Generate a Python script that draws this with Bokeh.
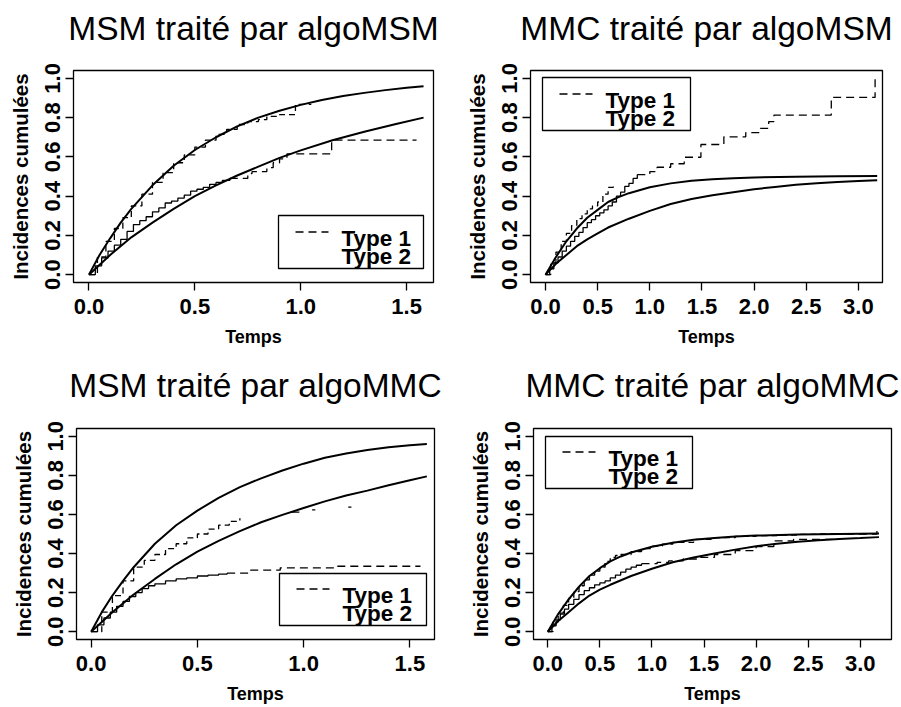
from bokeh.plotting import figure
from bokeh.layouts import column, row
from bokeh.models import (Range1d, FixedTicker, PrintfTickFormatter, BoxAnnotation,
                          Label, Arrow, LinearAxis)
from bokeh.embed import file_html
from bokeh.resources import INLINE

# ------------------------------------------------------------------ data
titles = ["MSM traité par algoMSM", "MMC traité par algoMSM",
          "MSM traité par algoMMC", "MMC traité par algoMMC"]
x_label = "Temps"
y_label = "Incidences cumulées"
legend_labels = ["Type 1", "Type 2"]
y_ticks = [0.0, 0.2, 0.4, 0.6, 0.8, 1.0]
x_ticks_short = [0.0, 0.5, 1.0, 1.5]
x_ticks_long = [0.0, 0.5, 1.0, 1.5, 2.0, 2.5, 3.0]

# ---- panel 1 : MSM traité par algoMSM
p1_th_a_x = [0, 0.05, 0.1, 0.15, 0.2, 0.3, 0.4, 0.5, 0.6, 0.7, 0.8, 0.9, 1.0, 1.1, 1.2, 1.3, 1.4, 1.5, 1.58]
p1_th_a_y = [0, 0.10, 0.185, 0.265, 0.335, 0.455, 0.555, 0.635, 0.70, 0.755, 0.80, 0.835, 0.865, 0.89, 0.91, 0.926, 0.94, 0.952, 0.96]
p1_th_b_x = [0, 0.1, 0.2, 0.3, 0.4, 0.5, 0.6, 0.7, 0.8, 0.9, 1.0, 1.15, 1.3, 1.45, 1.58]
p1_th_b_y = [0, 0.10, 0.19, 0.265, 0.335, 0.40, 0.455, 0.505, 0.55, 0.595, 0.633, 0.685, 0.728, 0.767, 0.80]
p1_est_a_x = [0, 0.04, 0.08, 0.12, 0.16, 0.2, 0.25, 0.3, 0.35, 0.4, 0.45, 0.5, 0.55, 0.6, 0.65, 0.7, 0.75, 0.8, 0.84, 0.9, 0.975, 1.05]
p1_est_a_y = [0, 0.09, 0.17, 0.235, 0.29, 0.35, 0.41, 0.47, 0.52, 0.57, 0.61, 0.65, 0.685, 0.715, 0.74, 0.765, 0.78, 0.79, 0.806, 0.815, 0.867, 0.867]
p1_est_b_x = [0, 0.03, 0.06, 0.09, 0.12, 0.15, 0.18, 0.21, 0.24, 0.27, 0.30, 0.33, 0.36, 0.39, 0.42, 0.45, 0.48, 0.51, 0.54, 0.57, 0.60, 0.63, 0.665]
p1_est_b_y = [0, 0.045, 0.085, 0.12, 0.15, 0.18, 0.22, 0.255, 0.275, 0.295, 0.32, 0.34, 0.365, 0.375, 0.39, 0.405, 0.425, 0.435, 0.445, 0.46, 0.47, 0.48, 0.49]
p1_est_c_x = [0.665, 0.75, 0.77, 0.84, 0.87, 0.90, 0.935, 1.146, 1.547]
p1_est_c_y = [0.49, 0.515, 0.525, 0.545, 0.57, 0.59, 0.615, 0.685, 0.685]

# ---- panel 2 : MMC traité par algoMSM
p2_th_a_x = [0, 0.1, 0.2, 0.3, 0.4, 0.5, 0.6, 0.7, 0.8, 1.0, 1.2, 1.4, 1.6, 1.8, 2.0, 2.4, 2.8, 3.18]
p2_th_a_y = [0, 0.09, 0.17, 0.235, 0.29, 0.33, 0.37, 0.395, 0.415, 0.445, 0.465, 0.478, 0.486, 0.491, 0.495, 0.499, 0.501, 0.502]
p2_th_b_x = [0, 0.1, 0.2, 0.3, 0.4, 0.5, 0.6, 0.8, 1.0, 1.2, 1.4, 1.6, 1.8, 2.0, 2.2, 2.4, 2.6, 2.8, 3.0, 3.18]
p2_th_b_y = [0, 0.055, 0.10, 0.145, 0.18, 0.21, 0.24, 0.285, 0.325, 0.36, 0.385, 0.405, 0.42, 0.435, 0.447, 0.458, 0.465, 0.472, 0.477, 0.481]
p2_est_a_x = [0, 0.05, 0.1, 0.15, 0.2, 0.25, 0.3, 0.35, 0.4, 0.45, 0.5, 0.55, 0.6, 0.65]
p2_est_a_y = [0, 0.06, 0.115, 0.17, 0.21, 0.25, 0.285, 0.31, 0.335, 0.35, 0.37, 0.41, 0.445, 0.47]
p2_est_b_x = [0, 0.04, 0.08, 0.12, 0.16, 0.2, 0.24, 0.28, 0.32, 0.36, 0.40, 0.44, 0.48, 0.52, 0.56, 0.60, 0.64, 0.68, 0.72, 0.76, 0.80, 0.84, 0.88]
p2_est_b_y = [0, 0.03, 0.06, 0.09, 0.12, 0.145, 0.17, 0.195, 0.215, 0.24, 0.265, 0.28, 0.30, 0.315, 0.33, 0.35, 0.37, 0.40, 0.42, 0.45, 0.465, 0.49, 0.51]
p2_est_c_x = [0.88, 1.0, 1.07, 1.2, 1.33, 1.49, 1.71, 1.92, 2.06, 2.14, 2.19, 2.74, 3.16]
p2_est_c_y = [0.51, 0.525, 0.547, 0.565, 0.598, 0.663, 0.702, 0.724, 0.745, 0.78, 0.813, 0.903, 1.0]

# ---- panel 3 : MSM traité par algoMMC
p3_th_a_x = [0, 0.05, 0.1, 0.15, 0.2, 0.3, 0.4, 0.5, 0.6, 0.7, 0.8, 0.9, 1.0, 1.1, 1.2, 1.3, 1.4, 1.5, 1.58]
p3_th_a_y = [0, 0.10, 0.185, 0.26, 0.33, 0.45, 0.545, 0.62, 0.685, 0.74, 0.785, 0.825, 0.86, 0.89, 0.912, 0.93, 0.944, 0.954, 0.961]
p3_th_b_x = [0, 0.1, 0.2, 0.3, 0.4, 0.5, 0.6, 0.7, 0.8, 0.9, 1.0, 1.1, 1.2, 1.3, 1.4, 1.5, 1.58]
p3_th_b_y = [0, 0.10, 0.19, 0.27, 0.345, 0.41, 0.465, 0.515, 0.56, 0.598, 0.633, 0.667, 0.697, 0.722, 0.75, 0.775, 0.795]
p3_est_a_x = [0, 0.05, 0.1, 0.15, 0.2, 0.25, 0.3, 0.35, 0.4, 0.45, 0.5, 0.55, 0.6, 0.65, 0.7]
p3_est_a_y = [0, 0.10, 0.185, 0.26, 0.33, 0.365, 0.395, 0.425, 0.45, 0.48, 0.50, 0.525, 0.545, 0.565, 0.58]
p3_frag_x0 = [0.94, 1.04, 1.21]
p3_frag_x1 = [0.98, 1.055, 1.225]
p3_frag_y = [0.612, 0.623, 0.638]
p3_est_b_x = [0, 0.03, 0.06, 0.09, 0.12, 0.15, 0.18, 0.21, 0.24, 0.27, 0.30, 0.35, 0.40, 0.45, 0.50, 0.55, 0.60, 0.64]
p3_est_b_y = [0, 0.035, 0.07, 0.10, 0.13, 0.155, 0.18, 0.20, 0.22, 0.235, 0.245, 0.26, 0.27, 0.275, 0.285, 0.29, 0.295, 0.30]
p3_est_c_x = [0.64, 0.75, 0.89, 1.15, 1.55]
p3_est_c_y = [0.30, 0.315, 0.327, 0.335, 0.335]

# ---- panel 4 : MMC traité par algoMMC
p4_th_a_x = [0, 0.1, 0.2, 0.3, 0.4, 0.5, 0.6, 0.7, 0.8, 1.0, 1.2, 1.4, 1.6, 1.8, 2.0, 2.4, 2.8, 3.18]
p4_th_a_y = [0, 0.09, 0.165, 0.23, 0.285, 0.325, 0.36, 0.385, 0.405, 0.435, 0.455, 0.47, 0.48, 0.487, 0.492, 0.497, 0.5, 0.503]
p4_th_b_x = [0, 0.1, 0.2, 0.3, 0.4, 0.5, 0.6, 0.8, 1.0, 1.2, 1.4, 1.6, 1.8, 2.0, 2.2, 2.4, 2.6, 2.8, 3.0, 3.18]
p4_th_b_y = [0, 0.055, 0.10, 0.145, 0.185, 0.215, 0.24, 0.285, 0.322, 0.355, 0.38, 0.40, 0.42, 0.437, 0.45, 0.46, 0.468, 0.474, 0.479, 0.484]
p4_est_a_x = [0, 0.05, 0.1, 0.15, 0.2, 0.25, 0.3, 0.35, 0.4, 0.45, 0.5, 0.55, 0.6, 0.65, 0.7, 0.8, 0.9, 1.0, 1.1, 1.2, 1.4, 1.6, 1.8, 2.0, 2.2, 2.4, 2.6, 2.74]
p4_est_a_y = [0, 0.05, 0.095, 0.135, 0.17, 0.205, 0.235, 0.265, 0.29, 0.31, 0.33, 0.36, 0.38, 0.39, 0.395, 0.41, 0.425, 0.438, 0.448, 0.457, 0.472, 0.481, 0.488, 0.492, 0.495, 0.498, 0.5, 0.5]
p4_est_b_x = [0, 0.04, 0.08, 0.12, 0.16, 0.2, 0.25, 0.3, 0.35, 0.4, 0.45, 0.5, 0.55, 0.6, 0.65, 0.7, 0.75, 0.8, 0.85, 0.9]
p4_est_b_y = [0, 0.03, 0.06, 0.09, 0.115, 0.14, 0.165, 0.19, 0.21, 0.225, 0.24, 0.25, 0.26, 0.275, 0.29, 0.305, 0.32, 0.33, 0.34, 0.348]
p4_est_c_x = [0.9, 1.05, 1.16, 1.3, 1.45, 1.6, 1.8, 2.0, 2.17, 2.36, 2.74, 3.16]
p4_est_c_y = [0.348, 0.355, 0.362, 0.372, 0.38, 0.395, 0.415, 0.435, 0.465, 0.473, 0.50, 0.53]

# ------------------------------------------------------------------ style
FONT = "Liberation Sans"
TITLE_SIZE = "33.5px"
TICK_SIZE = "22px"
XLAB_SIZE = "18px"
YLAB_SIZE = "20.5px"
LEG_SIZE = "22.5px"
DASH = "8 5"
DASH_BROKEN = "6 4"


def make_panel(title, size, borders, xr, xticks, curves, legend_box, title_standoff, frags=None):
    w, h = size
    left, right, top, bottom = borders
    p = figure(width=w, height=h, x_range=Range1d(*xr), y_range=Range1d(-0.04, 1.04),
               output_backend="svg", toolbar_location=None, title=None,
               min_border_left=left, min_border_right=right,
               min_border_top=top, min_border_bottom=bottom)
    p.background_fill_color = "white"
    p.border_fill_color = "white"
    p.grid.visible = False
    p.outline_line_color = "black"
    p.outline_line_width = 1.3
    p.outline_line_alpha = 1.0

    xax = p.below[0]
    yax = p.left[0]
    xax.ticker = FixedTicker(ticks=xticks)
    yax.ticker = FixedTicker(ticks=y_ticks)
    xax.formatter = PrintfTickFormatter(format="%.1f")
    yax.formatter = PrintfTickFormatter(format="%.1f")
    yax.major_label_orientation = "vertical"
    xax.axis_label = x_label
    yax.axis_label = y_label
    for ax in (xax, yax):
        ax.axis_line_color = None
        ax.major_tick_line_color = "black"
        ax.major_tick_line_width = 1.3
        ax.major_tick_in = 0
        ax.major_tick_out = 8
        ax.minor_tick_line_color = None
        ax.major_label_text_font = FONT
        ax.major_label_text_font_size = TICK_SIZE
        ax.major_label_text_font_style = "bold"
        ax.major_label_text_color = "black"
        ax.axis_label_text_font = FONT
        ax.axis_label_text_font_style = "bold"
        ax.axis_label_text_color = "black"
    xax.major_label_standoff = 8
    yax.major_label_standoff = 5
    xax.axis_label_text_font_size = XLAB_SIZE
    yax.axis_label_text_font_size = YLAB_SIZE
    xax.axis_label_standoff = 10
    yax.axis_label_standoff = 11

    # panel title (R "main"): drawn as the label of a bare axis above the frame
    top_axis = LinearAxis(ticker=FixedTicker(ticks=[]), axis_label=title,
                          axis_line_color=None, major_tick_line_color=None,
                          minor_tick_line_color=None, major_tick_out=0, minor_tick_out=0,
                          major_tick_in=0, minor_tick_in=0,
                          axis_label_standoff=title_standoff,
                          axis_label_text_font=FONT, axis_label_text_font_size=TITLE_SIZE,
                          axis_label_text_font_style="normal", axis_label_text_color="black")
    p.add_layout(top_axis, "above")

    (tha_x, tha_y, thb_x, thb_y, ea_x, ea_y, eb_x, eb_y, ec_x, ec_y) = curves
    p.line(tha_x, tha_y, line_color="black", line_width=2.0)
    p.line(thb_x, thb_y, line_color="black", line_width=2.0)
    p.step(ea_x, ea_y, mode="after", line_color="black", line_width=1.3, line_dash=DASH_BROKEN)
    p.step(eb_x, eb_y, mode="after", line_color="black", line_width=1.3)
    p.step(ec_x, ec_y, mode="after", line_color="black", line_width=1.3, line_dash=DASH)
    if frags is not None:
        fx0, fx1, fy = frags
        p.segment(x0=fx0, y0=fy, x1=fx1, y1=fy, line_color="black", line_width=1.3)

    # legend (R style box, dashed sample only for Type 1)
    bl, bb, bw, bh = legend_box
    p.add_layout(BoxAnnotation(left=bl, right=bl + bw, bottom=bb, top=bb + bh,
                               left_units="screen", right_units="screen",
                               bottom_units="screen", top_units="screen",
                               fill_color=None, fill_alpha=0, line_color="black",
                               line_width=1.3, line_alpha=1.0))
    p.add_layout(Arrow(end=None, x_start=bl + 17, y_start=bb + 36.5, x_end=bl + 50, y_end=bb + 36.5,
                       start_units="screen", end_units="screen", line_color="black",
                       line_width=1.3, line_dash=DASH))
    for lab, yoff in zip(legend_labels, (30, 12)):
        p.add_layout(Label(x=bl + 63, y=bb + yoff, x_units="screen", y_units="screen",
                           text=lab, text_font=FONT, text_font_size=LEG_SIZE,
                           text_font_style="bold",
                           text_color="black", text_baseline="alphabetic", text_align="left"))
    return p


p1 = make_panel(titles[0], (450, 353), (73, 17, 70, 71), (-0.073, 1.627), x_ticks_short,
                (p1_th_a_x, p1_th_a_y, p1_th_b_x, p1_th_b_y, p1_est_a_x, p1_est_a_y,
                 p1_est_b_x, p1_est_b_y, p1_est_c_x, p1_est_c_y), (205, 14, 145, 53), 24)
p2 = make_panel(titles[1], (450, 353), (80, 18, 70, 70), (-0.144, 3.231), x_ticks_long,
                (p2_th_a_x, p2_th_a_y, p2_th_b_x, p2_th_b_y, p2_est_a_x, p2_est_a_y,
                 p2_est_b_x, p2_est_b_y, p2_est_c_x, p2_est_c_y), (12, 152, 148, 53), 24)
p3 = make_panel(titles[2], (450, 353), (76, 16, 75, 67), (-0.069, 1.616), x_ticks_short,
                (p3_th_a_x, p3_th_a_y, p3_th_b_x, p3_th_b_y, p3_est_a_x, p3_est_a_y,
                 p3_est_b_x, p3_est_b_y, p3_est_c_x, p3_est_c_y), (203, 14, 147, 52), 25,
                frags=(p3_frag_x0, p3_frag_x1, p3_frag_y))
p4 = make_panel(titles[3], (450, 353), (83, 9, 75, 67), (-0.137, 3.30), x_ticks_long,
                (p4_th_a_x, p4_th_a_y, p4_th_b_x, p4_th_b_y, p4_est_a_x, p4_est_a_y,
                 p4_est_b_x, p4_est_b_y, p4_est_c_x, p4_est_c_y), (12, 151, 147, 52), 25)

layout = column(row(p1, p2), row(p3, p4))
open("out.html", "w").write(file_html(layout, INLINE))
